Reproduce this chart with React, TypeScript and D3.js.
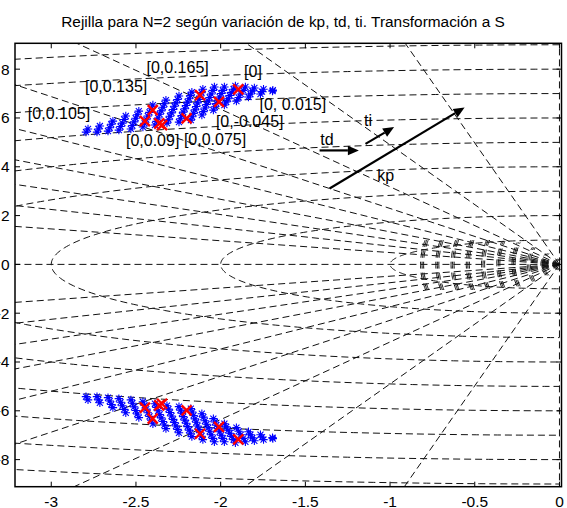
import * as d3 from "d3";

// s-plane grid (zgrid mapped with s = ln(z)/T): circles of constant wn, rays of constant zeta
const RADII = [1, 2, 3, 4, 5, 6, 7, 8, 9, 10];
const ZETAS = [0, 0.1, 0.2, 0.3, 0.4, 0.5, 0.6, 0.7, 0.8, 0.9, 1];
const WN_MAX = 10;
// dense short arcs next to the origin
const ARC_X = [-0.82, -0.73, -0.64, -0.55, -0.46, -0.37, -0.28, -0.19, -0.11, -0.04];
const ARC_H = [1.05, 1.05, 1.05, 1.05, 1.0, 0.95, 0.9, 0.7, 0.45, 0.22];

const X_TICKS = [-3, -2.5, -2, -1.5, -1, -0.5, 0];
const X_TICK_LABELS = ["-3", "-2.5", "-2", "-1.5", "-1", "-0.5", "0"];
const Y_TICKS = [-8, -6, -4, -2, 0, 2, 4, 6, 8];
const Y_TICK_LABELS = ["-8", "-6", "-4", "-2", "0", "2", "4", "6", "8"];

// closed-loop poles for the kp/td/ti sweep (upper half, conjugates mirrored)
const POLES_BLUE: [number, number][] = [
  [-2.795, 5.42], [-2.783, 5.55],
  [-2.73, 5.42], [-2.722, 5.55], [-2.713, 5.67],
  [-2.665, 5.46], [-2.655, 5.6], [-2.646, 5.74], [-2.636, 5.87],
  [-2.601, 5.5], [-2.591, 5.65], [-2.58, 5.79], [-2.57, 5.94], [-2.56, 6.08],
  [-2.53, 5.55], [-2.521, 5.69], [-2.511, 5.84], [-2.502, 5.99], [-2.492, 6.13], [-2.483, 6.28],
  [-2.459, 5.63], [-2.449, 5.78], [-2.439, 5.93], [-2.43, 6.08], [-2.42, 6.23], [-2.41, 6.38], [-2.4, 6.53],
  [-2.388, 5.71], [-2.379, 5.86], [-2.369, 6.0], [-2.36, 6.15], [-2.351, 6.29], [-2.341, 6.44], [-2.332, 6.58], [-2.323, 6.73],
  [-2.317, 5.79], [-2.308, 5.93], [-2.299, 6.07], [-2.29, 6.21], [-2.281, 6.35], [-2.273, 6.48], [-2.264, 6.62], [-2.255, 6.76], [-2.246, 6.9],
  [-2.246, 5.83], [-2.238, 5.97], [-2.229, 6.1], [-2.221, 6.24], [-2.212, 6.38], [-2.204, 6.51], [-2.195, 6.65], [-2.187, 6.79], [-2.178, 6.92], [-2.17, 7.06],
  [-2.176, 5.91], [-2.168, 6.05], [-2.16, 6.19], [-2.152, 6.33], [-2.144, 6.47], [-2.137, 6.62], [-2.129, 6.76], [-2.121, 6.9], [-2.113, 7.04], [-2.105, 7.18],
  [-2.111, 6.12], [-2.102, 6.26], [-2.093, 6.41], [-2.083, 6.55], [-2.074, 6.7], [-2.065, 6.84], [-2.056, 6.98], [-2.046, 7.13], [-2.037, 7.27],
  [-2.043, 6.32], [-2.034, 6.46], [-2.025, 6.59], [-2.015, 6.73], [-2.006, 6.86], [-1.997, 7.0], [-1.987, 7.13], [-1.978, 7.27],
  [-1.978, 6.53], [-1.967, 6.66], [-1.956, 6.79], [-1.946, 6.92], [-1.935, 7.05], [-1.924, 7.18], [-1.913, 7.31],
  [-1.907, 6.69], [-1.894, 6.84], [-1.881, 6.98], [-1.867, 7.13], [-1.854, 7.27],
  [-1.836, 6.86], [-1.824, 6.98], [-1.813, 7.11], [-1.801, 7.23],
  [-1.765, 6.98], [-1.756, 7.08], [-1.747, 7.18],
  [-1.694, 7.1], [-1.692, 7.14],
];

const POLES_RED: [number, number][] = [
  [-1.896, 7.17], [-2.01, 6.66], [-2.122, 6.94], [-2.201, 5.98],
  [-2.401, 6.32], [-2.447, 5.87], [-2.362, 5.78], [-2.346, 5.71],
];

const LABELS = ["[0,0.165]", "[0]", "[0,0.135]", "[0, 0.015]", "[0,0.105]", "[0,-0.045]", "[0,0.09]", "[0,0.075]"];
const LABEL_POS: [number, number][] = [
  [-2.438, 8.08], [-1.862, 7.89], [-2.801, 7.31], [-1.771, 6.55],
  [-3.138, 6.19], [-2.028, 5.84], [-2.559, 5.09], [-2.217, 5.12],
];

const ARROW_NAMES = ["td", "ti", "kp"];
const ARROW_FROM: [number, number][] = [[-1.416, 4.67], [-1.145, 4.94], [-1.357, 3.11]];
const ARROW_TO: [number, number][] = [[-1.184, 4.67], [-0.976, 5.63], [-0.56, 6.43]];
const ARROW_TEXT_POS: [number, number][] = [[-1.373, 5.13], [-1.13, 5.91], [-1.026, 3.64]];

const TITLE = "Rejilla para N=2 según variación de kp, td, ti. Transformación a S";

const W = 567, H = 508;
const L = 15, R = 561.5, T = 43.3, B = 486.7;
const FONT = "'Liberation Sans', Arial, Helvetica, sans-serif";

export default function App() {
  const x = d3.scaleLinear().domain([-3.214, 0.012]).range([L, R]);
  const y = d3.scaleLinear().domain([-9.11, 9.06]).range([B, T]);
  const line = d3.line<[number, number]>().x((d) => x(d[0])).y((d) => y(d[1]));

  const gridPaths: string[] = [];
  RADII.forEach((r) => {
    const pts = d3.range(0, 181).map((i) => {
      const a = Math.PI / 2 + (i / 180) * Math.PI;
      return [r * Math.cos(a), r * Math.sin(a)] as [number, number];
    });
    gridPaths.push(line(pts)!);
  });
  ZETAS.forEach((z) => {
    const len = z < 1 ? WN_MAX / Math.sqrt(1 - z * z) : WN_MAX;
    const ex = -z * len, ey = Math.sqrt(1 - z * z) * len;
    gridPaths.push(line([[0, 0], [ex, ey]])!);
    if (z > 0 && z < 1) gridPaths.push(line([[0, 0], [ex, -ey]])!);
    if (z === 0) gridPaths.push(line([[0, 0], [0, -ey]])!);
  });
  ARC_X.forEach((ax, i) => {
    const h = ARC_H[i];
    [0, 0.009, 0.018].forEach((off) => {
      const pts = d3.range(-20, 21).map((k) => {
        const t = k / 20;
        return [ax + off + 0.03 * t * t, t * h] as [number, number];
      });
      gridPaths.push(line(pts)!);
    });
  });

  const blue = [...POLES_BLUE, ...POLES_BLUE.map(([a, b]) => [a, -b] as [number, number])];
  const red = [...POLES_RED, ...POLES_RED.map(([a, b]) => [a, -b] as [number, number])];

  const star = (cx: number, cy: number, s: number) =>
    `M${cx - s},${cy}L${cx + s},${cy}M${cx},${cy - s}L${cx},${cy + s}` +
    `M${cx - s * 0.72},${cy - s * 0.72}L${cx + s * 0.72},${cy + s * 0.72}` +
    `M${cx - s * 0.72},${cy + s * 0.72}L${cx + s * 0.72},${cy - s * 0.72}`;
  const cross = (cx: number, cy: number, s: number) =>
    `M${cx - s},${cy - s}L${cx + s},${cy + s}M${cx - s},${cy + s}L${cx + s},${cy - s}`;

  return (
    <svg width={W} height={H} style={{ position: "absolute", left: 0, top: 0, background: "#fff" }}
      fontFamily={FONT}>
      <defs>
        <clipPath id="plot"><rect x={L} y={T} width={R - L} height={B - T} /></clipPath>
      </defs>
      <rect x={0} y={0} width={W} height={H} fill="#fff" />
      <text x={283} y={27} textAnchor="middle" fontSize={15.4}>{TITLE}</text>

      <g clipPath="url(#plot)">
        {gridPaths.map((d, i) => (
          <path key={i} d={d} fill="none" stroke="#111" strokeWidth={1} strokeDasharray="7 4" />
        ))}
        <path d={blue.map(([a, b]) => star(x(a), y(b), 4.2)).join("")} fill="none" stroke="#0000ff" strokeWidth={1.1} />
        <path d={red.map(([a, b]) => cross(x(a), y(b), 5)).join("")} fill="none" stroke="#ff0000" strokeWidth={2.4} />
      </g>

      {LABELS.map((t, i) => (
        <text key={t} x={x(LABEL_POS[i][0])} y={y(LABEL_POS[i][1])} dy="0.35em" fontSize={16}>{t}</text>
      ))}

      {ARROW_NAMES.map((n, i) => {
        const x1 = x(ARROW_FROM[i][0]), y1 = y(ARROW_FROM[i][1]);
        const x2 = x(ARROW_TO[i][0]), y2 = y(ARROW_TO[i][1]);
        const ang = Math.atan2(y2 - y1, x2 - x1);
        const hl = 11, hw = 4.8;
        const bx = x2 - hl * Math.cos(ang), by = y2 - hl * Math.sin(ang);
        const px = -Math.sin(ang) * hw, py = Math.cos(ang) * hw;
        return (
          <g key={n}>
            <line x1={x1} y1={y1} x2={bx} y2={by} stroke="#000" strokeWidth={2.2} />
            <path d={`M${x2},${y2}L${bx + px},${by + py}L${bx - px},${by - py}Z`} fill="#000" />
            <text x={x(ARROW_TEXT_POS[i][0])} y={y(ARROW_TEXT_POS[i][1])} dy="0.35em"
              textAnchor="middle" fontSize={16}>{n}</text>
          </g>
        );
      })}

      <rect x={L} y={T} width={R - L} height={B - T} fill="none" stroke="#000" strokeWidth={1.5} />
      {X_TICKS.map((t, i) => (
        <g key={t}>
          <line x1={x(t)} x2={x(t)} y1={B} y2={B - 5} stroke="#000" />
          <line x1={x(t)} x2={x(t)} y1={T} y2={T + 5} stroke="#000" />
          <text x={x(t)} y={506.5} textAnchor="middle" fontSize={15.5}>{X_TICK_LABELS[i]}</text>
        </g>
      ))}
      {Y_TICKS.map((t, i) => (
        <g key={t}>
          <line x1={L} x2={L + 5} y1={y(t)} y2={y(t)} stroke="#000" />
          <line x1={R} x2={R - 5} y1={y(t)} y2={y(t)} stroke="#000" />
          <text x={9.5} y={y(t)} dy="0.35em" textAnchor="end" fontSize={15.5}>{Y_TICK_LABELS[i]}</text>
        </g>
      ))}
    </svg>
  );
}
